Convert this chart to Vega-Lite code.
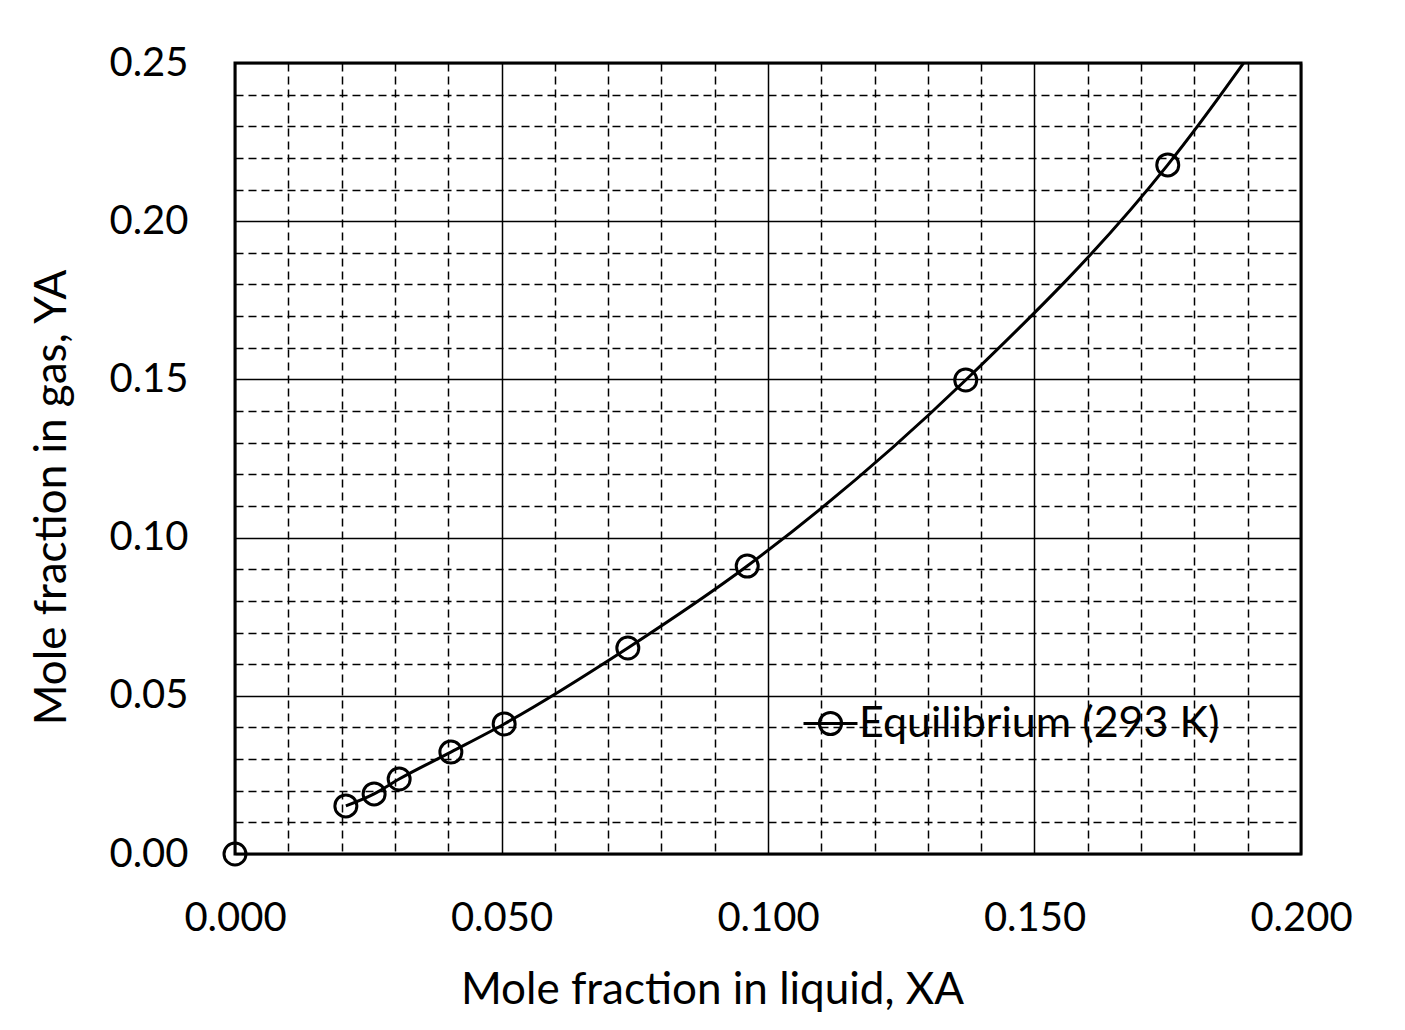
{
  "$schema": "https://vega.github.io/schema/vega-lite/v6.json",
  "width": 1066,
  "height": 791,
  "autosize": {"type": "none"},
  "padding": {"left": 235, "top": 63, "right": 104, "bottom": 176},
  "background": "white",
  "config": {
    "view": {"stroke": "black", "strokeWidth": 3},
    "font": "Lato",
    "axis": {"labelColor": "black", "titleColor": "black", "labelFont": "Lato", "titleFont": "Lato", "titleFontWeight": "normal"}
  },
  "datasets": {
    "points": [
      {"xa": 0.000, "ya": 0.000, "series": "Equilibrium (293 K)"},
      {"xa": 0.0208, "ya": 0.0152, "series": "Equilibrium (293 K)"},
      {"xa": 0.0261, "ya": 0.0190, "series": "Equilibrium (293 K)"},
      {"xa": 0.0308, "ya": 0.0237, "series": "Equilibrium (293 K)"},
      {"xa": 0.0405, "ya": 0.0322, "series": "Equilibrium (293 K)"},
      {"xa": 0.0505, "ya": 0.0411, "series": "Equilibrium (293 K)"},
      {"xa": 0.0737, "ya": 0.0651, "series": "Equilibrium (293 K)"},
      {"xa": 0.0961, "ya": 0.0910, "series": "Equilibrium (293 K)"},
      {"xa": 0.1371, "ya": 0.1498, "series": "Equilibrium (293 K)"},
      {"xa": 0.1750, "ya": 0.2178, "series": "Equilibrium (293 K)"}
    ],
    "curve": [
      {"xa": 0.0208, "ya": 0.0152},
      {"xa": 0.0261, "ya": 0.0190},
      {"xa": 0.0308, "ya": 0.0237},
      {"xa": 0.0405, "ya": 0.0322},
      {"xa": 0.0505, "ya": 0.0411},
      {"xa": 0.0737, "ya": 0.0651},
      {"xa": 0.0961, "ya": 0.0910},
      {"xa": 0.1371, "ya": 0.1498},
      {"xa": 0.1750, "ya": 0.2178},
      {"xa": 0.2000, "ya": 0.2760}
    ]
  },
  "layer": [
    {
      "data": {"name": "curve"},
      "mark": {"type": "line", "interpolate": "monotone", "clip": true, "color": "black", "strokeWidth": 3},
      "encoding": {
        "x": {
          "field": "xa", "type": "quantitative",
          "scale": {"domain": [0, 0.2], "nice": false, "zero": false},
          "axis": {
            "orient": "bottom", "title": null, "labels": false, "ticks": false, "domain": false,
            "grid": true, "gridColor": "black", "gridWidth": 1.5, "gridDash": [8, 5], "gridOpacity": 1,
            "values": [0.01, 0.02, 0.03, 0.04, 0.06, 0.07, 0.08, 0.09, 0.11, 0.12, 0.13, 0.14, 0.16, 0.17, 0.18, 0.19]
          }
        },
        "y": {
          "field": "ya", "type": "quantitative",
          "scale": {"domain": [0, 0.25], "nice": false, "zero": false},
          "axis": {
            "orient": "left", "title": null, "labels": false, "ticks": false, "domain": false,
            "grid": true, "gridColor": "black", "gridWidth": 1.5, "gridDash": [8, 5], "gridOpacity": 1,
            "values": [0.01, 0.02, 0.03, 0.04, 0.06, 0.07, 0.08, 0.09, 0.11, 0.12, 0.13, 0.14, 0.16, 0.17, 0.18, 0.19, 0.21, 0.22, 0.23, 0.24]
          }
        }
      }
    },
    {
      "data": {"name": "points"},
      "mark": {"type": "point", "shape": "circle", "filled": false, "size": 484, "strokeWidth": 3, "opacity": 1},
      "encoding": {
        "x": {
          "field": "xa", "type": "quantitative",
          "axis": {
            "orient": "bottom", "title": "Mole fraction in liquid, XA",
            "values": [0, 0.05, 0.1, 0.15, 0.2], "format": ".3f",
            "grid": true, "gridColor": "black", "gridWidth": 1.5, "gridOpacity": 1,
            "domain": false, "ticks": false, "tickSize": 0,
            "labelFontSize": 40, "labelPadding": 64, "labelBaseline": "middle", "labelFlush": false,
            "titleFontSize": 44, "titleX": 477, "titleY": 136, "titleBaseline": "middle"
          }
        },
        "y": {
          "field": "ya", "type": "quantitative",
          "axis": {
            "orient": "left", "title": "Mole fraction in gas, YA",
            "values": [0, 0.05, 0.1, 0.15, 0.2, 0.25], "format": ".2f",
            "grid": true, "gridColor": "black", "gridWidth": 1.5, "gridOpacity": 1,
            "domain": false, "ticks": false, "tickSize": 0,
            "labelFontSize": 40, "labelPadding": 47, "labelBaseline": "middle", "labelFlush": false,
            "titleFontSize": 44, "titleX": -183, "titleY": 434, "titleBaseline": "middle", "titleAngle": -90
          }
        },
        "color": {
          "field": "series", "type": "nominal",
          "scale": {"range": ["black"]},
          "legend": {
            "title": null, "orient": "none", "legendX": 567, "legendY": 632,
            "symbolType": "M-1,0L1,0M0.41,0A0.41,0.41,0,1,1,-0.41,0A0.41,0.41,0,1,1,0.41,0",
            "symbolSize": 2916, "symbolStrokeWidth": 3, "symbolStrokeColor": "black", "symbolFillColor": "transparent",
            "labelFontSize": 43, "labelFont": "Lato", "labelColor": "black", "labelOffset": 0, "labelLimit": 600
          }
        }
      }
    }
  ],
  "resolve": {"axis": {"x": "independent", "y": "independent"}}
}
